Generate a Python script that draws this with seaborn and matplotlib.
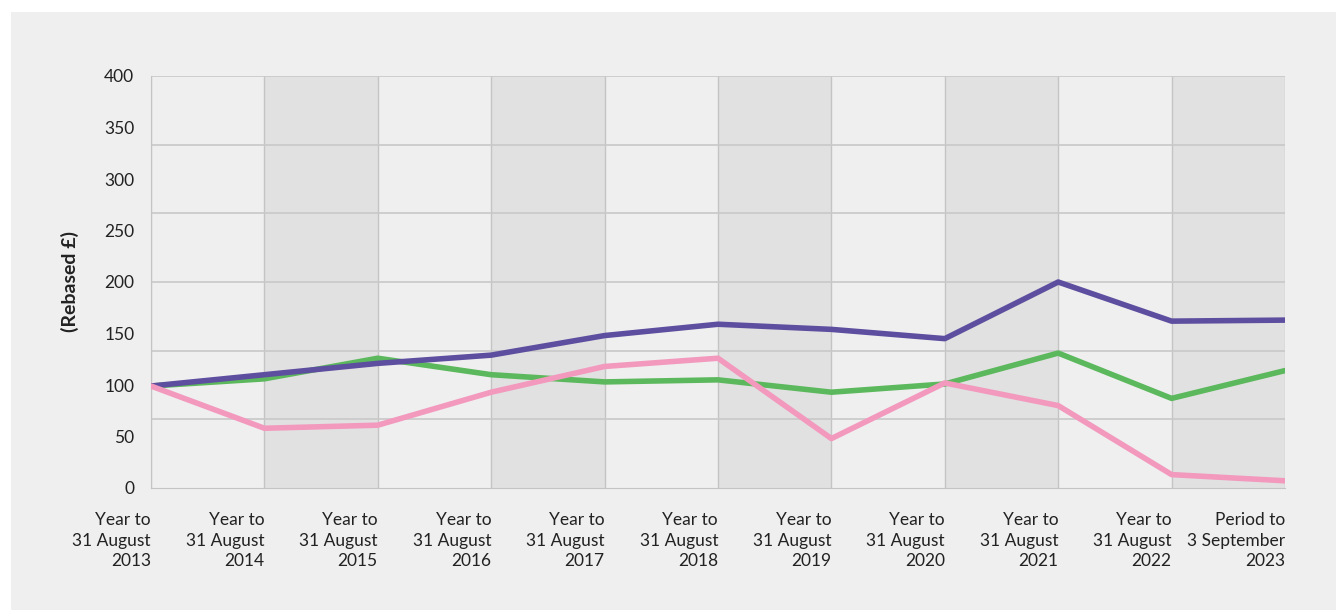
import seaborn as sns
import numpy as np
import pandas as pd
import matplotlib.pyplot as plt
from matplotlib.patches import Rectangle

periods = ['Year to\n31 August\n2013', 'Year to\n31 August\n2014', 'Year to\n31 August\n2015',
           'Year to\n31 August\n2016', 'Year to\n31 August\n2017', 'Year to\n31 August\n2018',
           'Year to\n31 August\n2019', 'Year to\n31 August\n2020', 'Year to\n31 August\n2021',
           'Year to\n31 August\n2022', 'Period to\n3 September\n2023']
purple_vals = [99, 110, 121, 129, 148, 159, 154, 145, 200, 162, 163]
green_vals = [99, 106, 126, 110, 103, 105, 93, 101, 131, 87, 114]
pink_vals = [99, 58, 61, 93, 118, 126, 48, 102, 80, 13, 7]

y_ticks = [0, 50, 100, 150, 200, 250, 300, 350, 400]

sns.set_style("white")
plt.rcParams['font.family'] = ['Lato', 'DejaVu Sans']

fig = plt.figure(figsize=(13.36, 6.10), dpi=100)
fig.patch.set_facecolor('white')
# grey panel behind the chart
fig.patches.append(Rectangle((11 / 1336, 0), 1 - 11 / 1336, 1 - 12 / 610,
                             transform=fig.transFigure, facecolor='#efefef',
                             edgecolor='none', zorder=-10))

ax = fig.add_axes([151 / 1336, 1 - 488 / 610, (1285 - 151) / 1336, (488 - 76) / 610])
ax.set_facecolor('#efefef')

x = np.arange(len(periods))
ax.set_xlim(0, len(periods) - 1)
ax.set_ylim(0, 400)

# alternating shaded columns
for i in range(1, len(periods) - 1, 2):
    ax.axvspan(i, i + 1, color='#e1e1e1', zorder=0, lw=0)

# vertical and horizontal grid lines
for i in x:
    ax.axvline(i, color='#c4c4c4', lw=1, zorder=1)
for k in range(1, 7):
    ax.axhline(400 * k / 6, color='#c8c8c8', lw=1.2, zorder=1)

df = pd.DataFrame({'x': x, 'purple': purple_vals, 'green': green_vals, 'pink': pink_vals})
sns.lineplot(data=df, x='x', y='green', color='#5cb85c', lw=4, ax=ax, zorder=3)
sns.lineplot(data=df, x='x', y='purple', color='#5e4e9f', lw=4, ax=ax, zorder=4)
sns.lineplot(data=df, x='x', y='pink', color='#f299bd', lw=4, ax=ax, zorder=5)

ax.set_xticks(x)
ax.set_xticklabels(periods, ha='right', fontsize=12.5, color='#222222', linespacing=1.38)
ax.set_yticks(y_ticks)
ax.set_yticklabels([str(v) for v in y_ticks], fontsize=12.5, color='#222222')
ax.tick_params(axis='y', length=0, pad=12)
ax.tick_params(axis='x', length=0, pad=17)

for s in ax.spines.values():
    s.set_visible(False)
ax.spines['left'].set_visible(True)
ax.spines['left'].set_color('#c4c4c4')
ax.spines['bottom'].set_visible(True)
ax.spines['bottom'].set_color('#c4c4c4')

ax.set_xlabel('')
ax.set_ylabel('(Rebased £)', fontsize=14, fontweight='bold', color='#222222', labelpad=18)

fig.savefig('out.png', dpi=100, facecolor=fig.get_facecolor())
